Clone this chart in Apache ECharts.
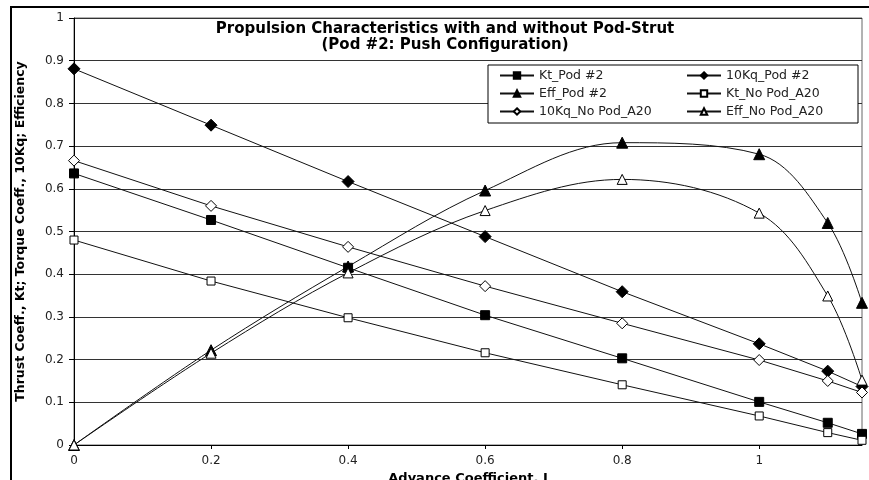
<!DOCTYPE html>
<html>
<head>
<meta charset="utf-8">
<script src="https://cdn.jsdelivr.net/npm/echarts@6/dist/echarts.min.js"></script>
<style>
  html, body { margin: 0; padding: 0; background: #fff; }
  #main { width: 869px; height: 480px; }
</style>
</head>
<body>
<div id="main"></div>
<script>
let mychart = echarts.init(document.getElementById('main'));

// advance coefficient J
let jValues = [0, 0.2, 0.4, 0.6, 0.8, 1, 1.1, 1.15]

let ktPod = [0.636, 0.527, 0.415, 0.304, 0.203, 0.101, 0.052, 0.026]
let kqPod = [0.881, 0.749, 0.617, 0.488, 0.359, 0.237, 0.173, 0.137]
let effPod = [0, 0.222, 0.418, 0.596, 0.708, 0.681, 0.52, 0.333]
let ktNoPod = [0.48, 0.384, 0.298, 0.216, 0.141, 0.068, 0.029, 0.011]
let kqNoPod = [0.666, 0.56, 0.464, 0.372, 0.285, 0.199, 0.15, 0.123]
let effNoPod = [0, 0.215, 0.403, 0.549, 0.622, 0.543, 0.349, 0.152]

let seriesNames = ['Kt_Pod #2', '10Kq_Pod #2', 'Eff_Pod #2', 'Kt_No Pod_A20', '10Kq_No Pod_A20', 'Eff_No Pod_A20']

let font = '"DejaVu Sans", Arial, sans-serif'

function pairs(vals) {
    return jValues.map((j, i) => [j, vals[i]])
}

function makeSeries(name, vals, symbol, size, filled, smooth) {
    return {
        name: name,
        type: 'line',
        data: pairs(vals),
        smooth: smooth,
        symbol: symbol,
        symbolSize: size,
        showAllSymbol: true,
        lineStyle: { color: '#111', width: 1 },
        itemStyle: {
            color: filled ? '#000' : '#fff',
            borderColor: '#000',
            borderWidth: 1
        },
        emphasis: { disabled: true },
        animation: false
    }
}

let legendText = { fontFamily: font, fontSize: 12.5, color: '#222' }

let option = {
    backgroundColor: '#fff',
    title: {
        text: 'Propulsion Characteristics with and without Pod-Strut\n(Pod #2: Push Configuration)',
        left: 445,
        top: 21,
        padding: 0,
        textAlign: 'center',
        textStyle: {
            fontFamily: font,
            fontSize: 15,
            fontWeight: 'bold',
            lineHeight: 16,
            color: '#000'
        }
    },
    graphic: [{
        type: 'rect',
        shape: { x: 11, y: 7, width: 900, height: 520 },
        style: { fill: 'none', stroke: '#000', lineWidth: 2 },
        z: 10
    }, {
        type: 'rect',
        shape: { x: 488, y: 65, width: 370, height: 58 },
        style: { fill: '#fff', stroke: '#000', lineWidth: 1 },
        z: 3
    }],
    legend: [{
        orient: 'vertical',
        left: 494,
        top: 64,
        itemGap: 5,
        itemWidth: 34,
        itemHeight: 8,
        data: ['Kt_Pod #2', 'Eff_Pod #2', '10Kq_No Pod_A20'],
        textStyle: legendText,
        selectedMode: false
    }, {
        orient: 'vertical',
        left: 681,
        top: 64,
        itemGap: 5,
        itemWidth: 34,
        itemHeight: 8,
        data: ['10Kq_Pod #2', 'Kt_No Pod_A20', 'Eff_No Pod_A20'],
        textStyle: legendText,
        selectedMode: false
    }],
    grid: {
        left: 74,
        right: 7,
        top: 18,
        bottom: 35,
        outerBoundsMode: 'none',
        show: true,
        borderColor: '#666',
        borderWidth: 1
    },
    xAxis: {
        type: 'value',
        min: 0,
        max: 1.15,
        interval: 0.2,
        name: 'Advance Coefficient, J',
        nameLocation: 'middle',
        nameGap: 20,
        nameTextStyle: { fontFamily: font, fontSize: 13, fontWeight: 'bold', color: '#000' },
        axisLine: { lineStyle: { color: '#000', width: 1 } },
        axisTick: { show: true, length: 4, lineStyle: { color: '#000' } },
        axisLabel: { fontFamily: font, fontSize: 12, color: '#222', margin: 10, showMaxLabel: false },
        splitLine: { show: false }
    },
    yAxis: {
        type: 'value',
        min: 0,
        max: 1,
        interval: 0.1,
        name: 'Thrust Coeff., Kt; Torque Coeff., 10Kq; Efficiency',
        nameLocation: 'middle',
        nameGap: 47,
        nameTextStyle: { fontFamily: font, fontSize: 12.5, fontWeight: 'bold', color: '#000' },
        axisLine: { show: true, lineStyle: { color: '#000', width: 1 } },
        axisTick: { show: true, length: 5, lineStyle: { color: '#000' } },
        axisLabel: { fontFamily: font, fontSize: 12, color: '#222', margin: 10 },
        splitLine: { show: true, lineStyle: { color: '#333', width: 1 } }
    },
    series: [
        makeSeries(seriesNames[0], ktPod, 'rect', 9, true, false),
        makeSeries(seriesNames[1], kqPod, 'diamond', 12, true, false),
        makeSeries(seriesNames[2], effPod, 'triangle', 11, true, 0.35),
        makeSeries(seriesNames[3], ktNoPod, 'rect', 8, false, false),
        makeSeries(seriesNames[4], kqNoPod, 'diamond', 11, false, false),
        makeSeries(seriesNames[5], effNoPod, 'triangle', 10, false, 0.35)
    ]
};
mychart.setOption(option);
</script>
</body>
</html>
